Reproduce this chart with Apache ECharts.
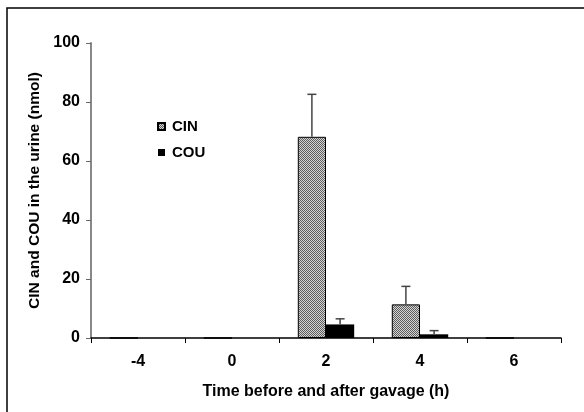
<!DOCTYPE html>
<html>
<head>
<meta charset="utf-8">
<script src="https://cdn.jsdelivr.net/npm/echarts@6/dist/echarts.min.js"></script>
<style>
  html, body { margin: 0; padding: 0; background: #fff; }
  #chart { width: 584px; height: 412px; }
</style>
</head>
<body>
<div id="chart"></div>
<script>
// categories / values
const categories = ['-4', '0', '2', '4', '6']
const cinMean = [0, 0, 68.2, 11.4, 0]
const cinSd = [0, 0, 14.4, 6.1, 0]
const couMean = [0, 0, 4.6, 1.25, 0]
const couSd = [0, 0, 1.9, 1.25, 0]
const yTicks = [0, 20, 40, 60, 80, 100]

const font = 'Arial, "Liberation Sans", sans-serif'

// checkered grey fill like the original
function makePattern () {
    let c = document.createElement('canvas')
    c.width = 2
    c.height = 2
    let ctx = c.getContext('2d')
    ctx.fillStyle = '#5e5e5e'
    ctx.fillRect(0, 0, 2, 2)
    ctx.fillStyle = '#d4d4d4'
    ctx.fillRect(1, 0, 1, 1)
    ctx.fillRect(0, 1, 1, 1)
    return c
}
const pattern = { image: makePattern(), repeat: 'repeat' }

// upper whisker only, offset to the bar center
function errorSeries (mean, sd, side) {
    return {
        type: 'custom',
        z: 5,
        data: mean.map((m, i) => [i, m, m + sd[i]]),
        renderItem: function (params, api) {
            let band = api.size([1, 0])[0]
            let off = side * band * 0.15
            let base = api.coord([api.value(0), api.value(1)])
            let top = api.coord([api.value(0), api.value(2)])
            if (api.value(2) - api.value(1) <= 0) return
            let x = base[0] + off
            let style = { stroke: '#444', lineWidth: 1.5 }
            return {
                type: 'group',
                children: [
                    { type: 'line', shape: { x1: x, y1: base[1], x2: x, y2: top[1] }, style: style },
                    { type: 'line', shape: { x1: x - 4.5, y1: top[1], x2: x + 4.5, y2: top[1] }, style: style }
                ]
            }
        }
    }
}

let myChart = echarts.init(document.getElementById('chart'))
myChart.setOption({
    animation: false,
    backgroundColor: '#fff',
    graphic: [
        { // frame, only top and left edges show
            type: 'rect',
            shape: { x: 7, y: 8, width: 620, height: 440 },
            style: { fill: 'none', stroke: '#000', lineWidth: 1.5 }
        }
    ],
    legend: {
        orient: 'vertical',
        left: 152,
        top: 114,
        itemWidth: 7,
        itemHeight: 7,
        itemGap: 11,
        icon: 'rect',
        data: ['CIN', 'COU'],
        textStyle: { fontFamily: font, fontWeight: 'bold', fontSize: 15, color: '#000', padding: [0, 0, 0, 2] }
    },
    grid: { left: 91, right: 23, top: 43, bottom: 74 },
    xAxis: {
        type: 'category',
        data: categories,
        name: 'Time before and after gavage (h)',
        nameLocation: 'middle',
        nameGap: 46,
        nameTextStyle: { fontFamily: font, fontWeight: 'bold', fontSize: 16, color: '#000' },
        axisLine: { lineStyle: { color: '#000', width: 1.5 } },
        axisTick: { show: true, length: 5, lineStyle: { color: '#000' } },
        axisLabel: { margin: 16, fontFamily: font, fontWeight: 'bold', fontSize: 16, color: '#000' }
    },
    yAxis: {
        type: 'value',
        min: yTicks[0],
        max: yTicks[yTicks.length - 1],
        interval: 20,
        name: 'CIN and COU in the urine (nmol)',
        nameLocation: 'middle',
        nameGap: 48,
        nameRotate: 90,
        nameTextStyle: { fontFamily: font, fontWeight: 'bold', fontSize: 15.5, color: '#000' },
        axisLine: { show: true, lineStyle: { color: '#888', width: 2 } },
        axisTick: { show: true, length: 5, lineStyle: { color: '#666' } },
        axisLabel: { margin: 11, fontFamily: font, fontWeight: 'bold', fontSize: 16, color: '#000' },
        splitLine: { show: false }
    },
    series: [
        {
            name: 'CIN',
            type: 'bar',
            data: cinMean,
            barGap: 0,
            barCategoryGap: '40%',
            itemStyle: { color: pattern, borderColor: '#000', borderWidth: 1 }
        },
        {
            name: 'COU',
            type: 'bar',
            data: couMean,
            itemStyle: { color: '#000' }
        },
        errorSeries(cinMean, cinSd, -1),
        errorSeries(couMean, couSd, 1)
    ]
})
</script>
</body>
</html>
